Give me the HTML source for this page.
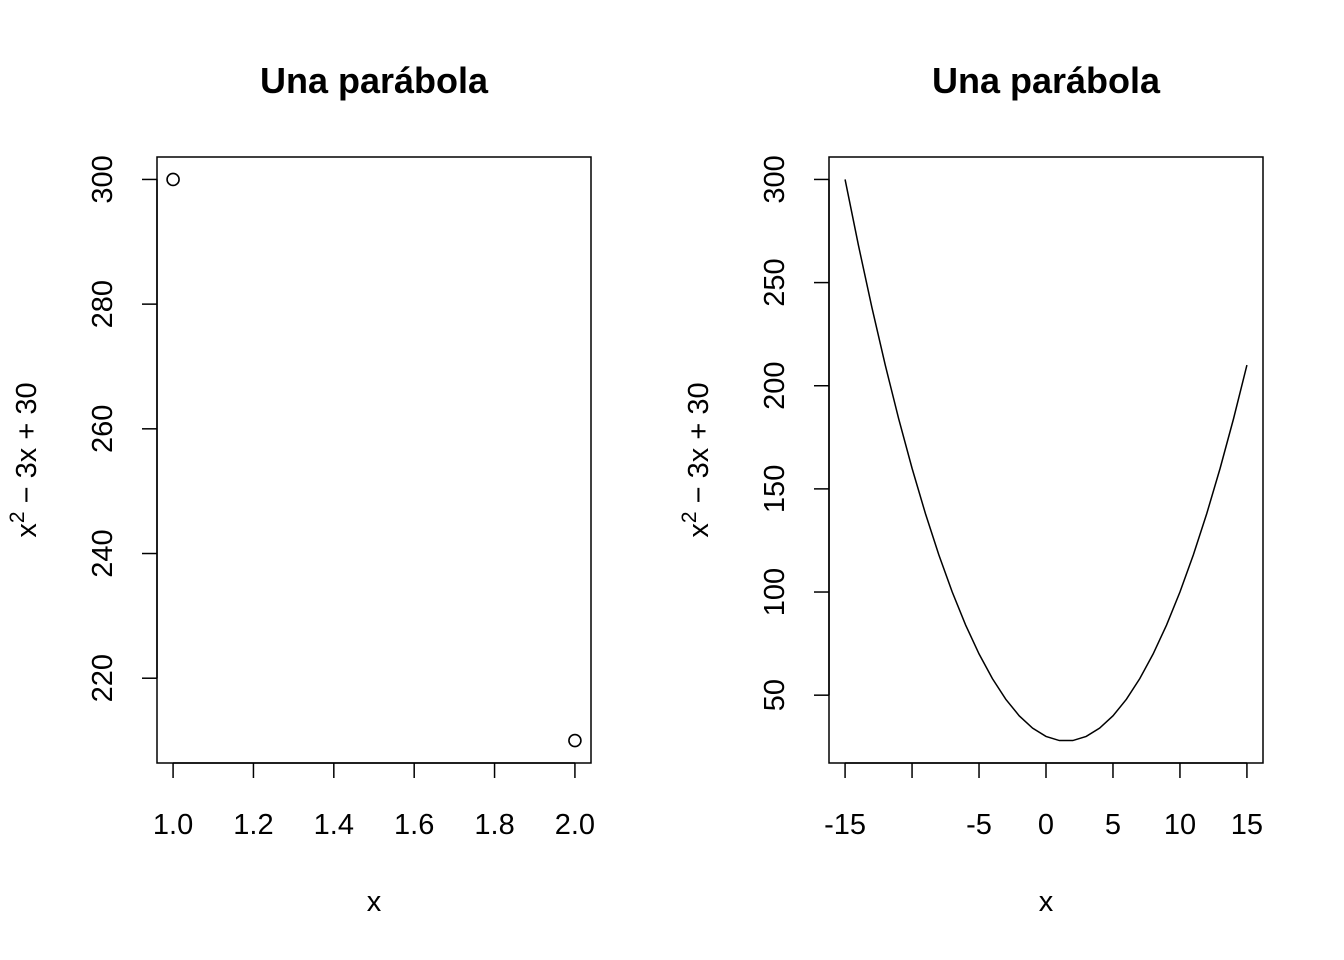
<!DOCTYPE html>
<html><head><meta charset="utf-8"><style>
html,body{margin:0;padding:0;background:#fff}
svg{display:block;font-family:"Liberation Sans",Arial,sans-serif}
</style></head><body>
<svg id="c" width="1344" height="960" xmlns="http://www.w3.org/2000/svg"></svg>
<script>
const leftX = [1, 2];
const leftY = [300, 210];
const leftXTicks = [1.0, 1.2, 1.4, 1.6, 1.8, 2.0];
const leftXTickLabels = ["1.0","1.2","1.4","1.6","1.8","2.0"];
const leftYTicks = [220, 240, 260, 280, 300];
const rightX = [-15,-14,-13,-12,-11,-10,-9,-8,-7,-6,-5,-4,-3,-2,-1,0,1,2,3,4,5,6,7,8,9,10,11,12,13,14,15];
const rightY = [300,268,238,210,184,160,138,118,100,84,70,58,48,40,34,30,28,28,30,34,40,48,58,70,84,100,118,138,160,184,210];
const rightXTicks = [-15,-10,-5,0,5,10,15];
const rightXTickLabels = ["-15","","-5","0","5","10","15"];
const rightYTicks = [50,100,150,200,250,300];

const NS="http://www.w3.org/2000/svg";
const svg=document.getElementById('c');
function mk(t,a,p){const e=document.createElementNS(NS,t);for(const k in a)e.setAttribute(k,a[k]);(p||svg).appendChild(e);return e;}

function panel(ox, xdom, ydom, xs, ys, xt, xtl, yt, type, nm){
  const L=ox, R=ox+434, T=157, B=763;
  const g=mk('g',{});
  
  
  const xr=xdom[1]-xdom[0], yr=ydom[1]-ydom[0];
  const x0=xdom[0]-0.04*xr, x1=xdom[1]+0.04*xr, y0=ydom[0]-0.04*yr, y1=ydom[1]+0.04*yr;
  const sx=v=>L+(v-x0)/(x1-x0)*(R-L);
  const sy=v=>B-(v-y0)/(y1-y0)*(B-T);
  const box=mk('rect',{x:L,y:T,width:R-L,height:B-T,fill:'none',stroke:'#000','stroke-width':1.5},g);
  
  
  const t=mk('text',{x:(L+R)/2,y:93,'text-anchor':'middle','font-size':36,'font-weight':'bold'},g);
  t.textContent='Una parábola';
  
  
  mk('line',{x1:sx(xt[0]),x2:sx(xt[xt.length-1]),y1:B,y2:B,stroke:'#000','stroke-width':1.5},g);
  xt.forEach((v,i)=>{
    mk('line',{x1:sx(v),x2:sx(v),y1:B,y2:B+15,stroke:'#000','stroke-width':1.5},g);
    if(xtl[i]){const l=mk('text',{x:sx(v),y:834,'text-anchor':'middle','font-size':29},g);l.textContent=xtl[i];
      
      }
  });
  mk('line',{x1:L,x2:L,y1:sy(yt[0]),y2:sy(yt[yt.length-1]),stroke:'#000','stroke-width':1.5},g);
  yt.forEach(v=>{
    mk('line',{x1:L-15,x2:L,y1:sy(v),y2:sy(v),stroke:'#000','stroke-width':1.5},g);
    const l=mk('text',{x:0,y:0,'text-anchor':'middle','font-size':29,transform:`translate(${L-45},${sy(v)}) rotate(-90)`},g);
    l.textContent=v;
    
    
  });
  const xl=mk('text',{x:(L+R)/2,y:911,'text-anchor':'middle','font-size':29},g);xl.textContent='x';
  
  
  const yl=mk('text',{x:0,y:0,'text-anchor':'middle','font-size':29,transform:`translate(${L-121},460) rotate(-90)`},g);
  yl.innerHTML='x<tspan dy="-12" font-size="21">2</tspan><tspan dy="12"> − 3x + 30</tspan>';
  
  
  if(type==='p'){
    xs.forEach((v,i)=>{const c=mk('circle',{cx:sx(v),cy:sy(ys[i]),r:6,fill:'none',stroke:'#000','stroke-width':1.6},g);
      
      });
  } else {
    const p=mk('polyline',{points:xs.map((v,i)=>sx(v)+','+sy(ys[i])).join(' '),fill:'none',stroke:'#000','stroke-width':1.5},g);
    
    
  }
}
panel(157,[1,2],[210,300],leftX,leftY,leftXTicks,leftXTickLabels,leftYTicks,'p','left-panel');
panel(829,[-15,15],[28,300],rightX,rightY,rightXTicks,rightXTickLabels,rightYTicks,'l','right-panel');
</script>
</body></html>
